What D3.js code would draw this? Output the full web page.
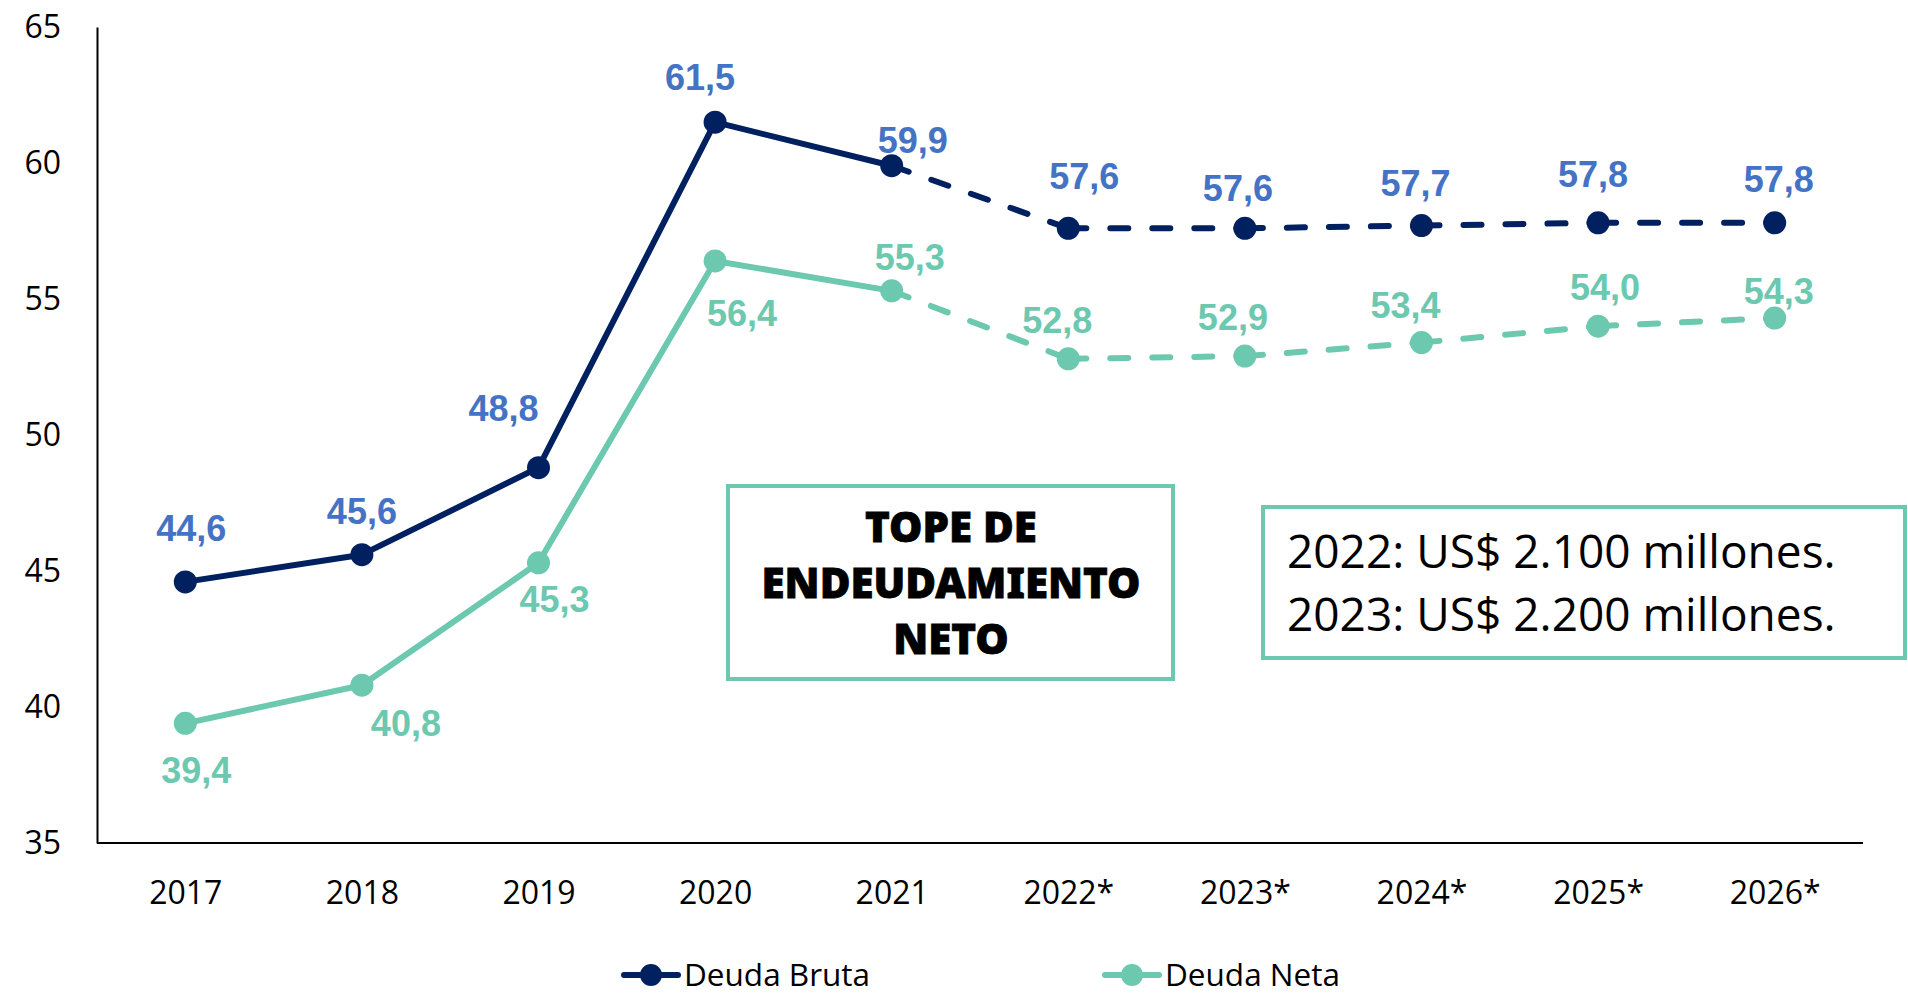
<!DOCTYPE html>
<html>
<head>
<meta charset="utf-8">
<script src="https://cdn.jsdelivr.net/npm/d3@7"></script>
<style>
  html, body { margin: 0; padding: 0; background: #ffffff; }
  svg { display: block; }
</style>
</head>
<body>
<svg id="chart" width="1908" height="994"></svg>
<script>
// ---- data ----
const categories = ["2017", "2018", "2019", "2020", "2021", "2022*", "2023*", "2024*", "2025*", "2026*"];
const deudaBruta = [44.6, 45.6, 48.8, 61.5, 59.9, 57.6, 57.6, 57.7, 57.8, 57.8];
const deudaNeta  = [39.4, 40.8, 45.3, 56.4, 55.3, 52.8, 52.9, 53.4, 54.0, 54.3];
const yTicks = [35, 40, 45, 50, 55, 60, 65];
const seriesNames = ["Deuda Bruta", "Deuda Neta"];
const lastActualIndex = 4; // 2021: solid up to here, dashed after
const boxTitle = ["TOPE DE", "ENDEUDAMIENTO", "NETO"];
const boxInfo = ["2022: US$ 2.100 millones.", "2023: US$ 2.200 millones."];

// ---- layout / style (not data) ----
const colBruta = "#002060", colBrutaLbl = "#4472C4", colNeta = "#6CC8AF";
const labelOffBruta = [[6,-54],[0,-44],[-35,-60],[-15,-45],[21,-26],[16,-52],[-7,-40],[-6,-43],[-5,-49],[4,-44]];
const labelOffNeta  = [[11,47],[44,38],[16,36],[27,52],[18,-34],[-11,-39],[-12,-39],[-16,-38],[7,-39],[4,-27]];

const svg = d3.select("#chart");
const plotLeft = 97, plotRight = 1863, plotTop = 27, plotBottom = 843;

const x = d3.scalePoint().domain(categories).range([plotLeft, plotRight]).padding(0.5);
const y = d3.scaleLinear().domain([35, 65]).range([plotBottom, plotTop]);

// axes
const yAxis = svg.append("g").attr("transform", `translate(${plotLeft},0)`)
  .call(d3.axisLeft(y).tickValues(yTicks).tickSize(0).tickSizeOuter(0).tickPadding(36).tickFormat(d3.format("d")));
const xAxis = svg.append("g").attr("transform", `translate(0,${plotBottom})`)
  .call(d3.axisBottom(x).tickSize(0).tickSizeOuter(0).tickPadding(38));
[yAxis, xAxis].forEach(g => {
  g.select(".domain").attr("stroke", "#000").attr("stroke-width", 2);
  g.selectAll("text").attr("font-family", "'Open Sans', sans-serif").attr("font-size", 32).attr("fill", "#000");
});
xAxis.select(".domain").attr("d", `M${plotLeft},0H${plotRight}`);

function drawSeries(values, color, labelColor, offs) {
  const pts = values.map((v, i) => [x(categories[i]), y(v)]);
  const line = d3.line();
  svg.append("path")
    .attr("d", line(pts.slice(0, lastActualIndex + 1)))
    .attr("fill", "none").attr("stroke", color).attr("stroke-width", 6)
    .attr("stroke-linejoin", "round").attr("stroke-linecap", "round");
  for (let i = lastActualIndex; i < pts.length - 1; i++) {
    svg.append("path")
      .attr("d", line([pts[i], pts[i + 1]]))
      .attr("fill", "none").attr("stroke", color).attr("stroke-width", 6)
      .attr("stroke-dasharray", "18 24").attr("stroke-linecap", "round");
  }
  svg.append("g").selectAll("circle").data(pts).join("circle")
    .attr("cx", d => d[0]).attr("cy", d => d[1]).attr("r", 11.5).attr("fill", color);
  svg.append("g").selectAll("text").data(values).join("text")
    .attr("x", (d, i) => pts[i][0] + offs[i][0])
    .attr("y", (d, i) => pts[i][1] + offs[i][1] + 13)
    .attr("text-anchor", "middle")
    .attr("font-family", "'Liberation Sans', Arial, sans-serif")
    .attr("font-weight", "bold").attr("font-size", 36)
    .attr("fill", labelColor)
    .text(d => d3.format(".1f")(d).replace(".", ","));
}
drawSeries(deudaBruta, colBruta, colBrutaLbl, labelOffBruta);
drawSeries(deudaNeta, colNeta, colNeta, labelOffNeta);

// TOPE box
svg.append("rect").attr("x", 728).attr("y", 486).attr("width", 445).attr("height", 193)
  .attr("fill", "#fff").attr("stroke", colNeta).attr("stroke-width", 4);
svg.append("g").selectAll("text").data(boxTitle).join("text")
  .attr("x", 951).attr("y", (d, i) => 542 + i * 56)
  .attr("text-anchor", "middle")
  .attr("font-family", "'Noto Sans', sans-serif").attr("font-weight", 900)
  .attr("font-size", 42).attr("fill", "#000")
  .attr("stroke", "#000").attr("stroke-width", 0.8)
  .text(d => d);

// info box
svg.append("rect").attr("x", 1263).attr("y", 507).attr("width", 642).attr("height", 151)
  .attr("fill", "#fff").attr("stroke", colNeta).attr("stroke-width", 4);
svg.append("g").selectAll("text").data(boxInfo).join("text")
  .attr("x", 1287).attr("y", (d, i) => 568 + i * 63)
  .attr("font-family", "'Open Sans', sans-serif")
  .attr("font-size", 46).attr("fill", "#000")
  .text(d => d);

// legend
const legendX = [624, 1105];
const lg = svg.append("g").selectAll("g").data(seriesNames).join("g")
  .attr("transform", (d, i) => `translate(${legendX[i]},975)`);
lg.append("line").attr("x1", 0).attr("x2", 54).attr("y1", 0).attr("y2", 0)
  .attr("stroke", (d, i) => i === 0 ? colBruta : colNeta).attr("stroke-width", 6).attr("stroke-linecap", "round");
lg.append("circle").attr("cx", 27).attr("cy", 0).attr("r", 11)
  .attr("fill", (d, i) => i === 0 ? colBruta : colNeta);
lg.append("text").attr("x", 60).attr("y", 11)
  .attr("font-family", "'Open Sans', sans-serif").attr("font-size", 31.5).attr("fill", "#000")
  .text(d => d);
</script>
</body>
</html>
